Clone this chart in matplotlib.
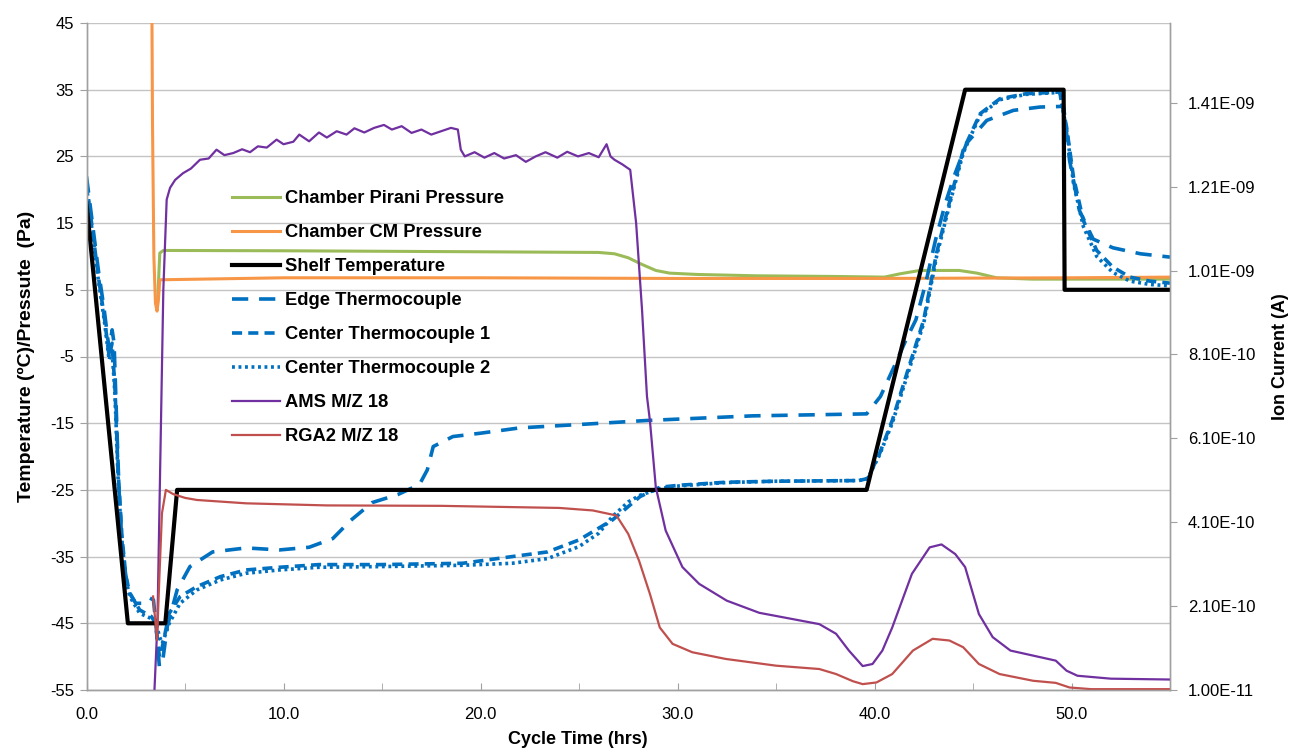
import matplotlib
matplotlib.use("Agg")
import matplotlib.pyplot as plt
from matplotlib.ticker import FixedLocator, MultipleLocator, FuncFormatter

# ---------------- data ----------------
# Left axis: temperature (degC) / pressure (Pa) vs cycle time (hrs)
pirani_t = [3.6, 3.72, 3.9, 10, 20, 26.0, 26.8, 27.5, 28.2, 28.9, 29.6, 31, 34, 38,
            40.5, 41.3, 42.3, 44.3, 45.2, 46.2, 48, 55]
pirani_v = [2.5, 10.5, 10.9, 10.85, 10.7, 10.6, 10.4, 9.8, 8.8, 7.9, 7.5, 7.3, 7.1, 7.0,
            6.9, 7.4, 7.9, 7.9, 7.5, 6.8, 6.6, 6.6]

cm_t = [3.28, 3.35, 3.42, 3.5, 3.58, 3.65, 3.72, 10, 20, 30, 40, 50, 55]
cm_v = [70, 30, 10, 3, 1.8, 3.5, 6.5, 6.8, 6.8, 6.7, 6.7, 6.8, 6.9]

shelf_t = [0, 2.1, 4.0, 4.6, 39.6, 44.6, 49.6, 49.65, 55]
shelf_v = [18, -45, -45, -25, -25, 35, 35, 5, 5]

edge_t = [0, 0.3, 0.6, 0.9, 1.15, 1.3, 1.4, 1.5, 1.65, 1.8, 2.0, 2.2, 2.5, 2.9, 3.2, 3.4,
          3.55, 3.7, 3.85, 4.1, 4.6, 5.25, 6.4, 8.1, 9.8, 11.3, 12.5, 13.4, 14.5, 15.8,
          16.9, 17.3, 17.6, 18.6, 20, 22, 25, 28.4, 33.8, 39.6, 40.3, 41.0, 41.6, 42.1,
          42.6, 43.1, 43.6, 44.1, 44.68, 45.7, 47.05, 48.4, 49.6, 49.9, 50.4, 51.1,
          52.1, 53.5, 55]
edge_v = [22, 15, 8, 2, -4, -1, -3, -12, -25, -33, -38, -40.5, -42, -42, -41.2, -41.5,
          -46, -51.5, -51, -45.5, -40, -36.5, -34.3, -33.7, -34, -33.6, -32.3, -29.6,
          -26.9, -25.7, -24.2, -22, -18.5, -17, -16.5, -15.7, -15.2, -14.6, -13.9, -13.6,
          -11, -6.5, -2.5, 0.5, 6, 12.5, 18, 22.5, 27.0, 30.4, 31.9, 32.4, 32.5, 24.4,
          16.9, 12.6, 11.3, 10.4, 9.9]

c1_t = [0, 0.3, 0.6, 0.9, 1.15, 1.3, 1.45, 1.6, 1.8, 2.0, 2.2, 2.7, 3.3, 3.5, 3.7, 3.85,
        4.2, 4.75, 5.6, 6.8, 8.1, 9.8, 11.8, 14.9, 19.1, 21.6, 23.4, 25, 26.7, 28.1,
        29.1, 30.1, 32.45, 35, 39.2, 39.65, 40.25, 40.9, 41.7, 42.5, 43.15, 43.83, 44.5,
        45.36, 46.37, 47.7, 49.4, 49.75, 50.1, 50.6, 51.28, 52.1, 52.97, 53.98, 55]
c1_v = [21, 14, 7, 1, -5, -3, -10, -22, -32, -38, -40.5, -43, -44, -45, -50, -48.5,
        -43.5, -41, -39.5, -38, -37, -36.6, -36.2, -36.2, -36, -35, -34.3, -32.5, -29.5,
        -26, -24.6, -24.3, -23.85, -23.7, -23.6, -23.3, -19.6, -14.6, -7, 0.5, 10.5,
        18.4, 25.9, 31.4, 33.65, 34.4, 34.65, 29.4, 21.9, 15.4, 10.9, 8.4, 6.9, 6.3, 6.0]

c2_t = [0, 0.3, 0.6, 0.9, 1.15, 1.3, 1.45, 1.6, 1.8, 2.0, 2.2, 2.7, 3.3, 3.5, 3.7, 3.85,
        4.2, 4.75, 5.6, 6.8, 8.1, 9.8, 11.8, 14.9, 19.1, 21.6, 23.4, 25, 26.0, 26.7,
        27.5, 28.1, 29.1, 30.1, 32.45, 35, 39.2, 39.65, 40.25, 40.9, 41.7, 42.5, 43.15,
        43.83, 44.5, 45.36, 46.37, 47.7, 49.4, 49.75, 50.1, 50.6, 51.28, 52.1, 52.97,
        53.98, 55]
c2_v = [20.5, 13.5, 6.5, 0.5, -5.5, -4, -11, -23, -33, -38.5, -41, -43.5, -44.3, -44.5,
        -47, -48, -45, -42, -40, -38.5, -37.5, -37, -36.6, -36.5, -36.3, -36, -35.3,
        -33.5, -31.5, -29, -26.8, -25.8, -24.8, -24.4, -23.9, -23.7, -23.6, -23.3, -19.8,
        -15, -7.5, 0, 10, 18, 25.5, 31.2, 33.5, 34.3, 34.6, 29, 21, 14.5, 10, 7.6, 6.3,
        5.8, 5.6]

# Right axis: ion current (A)
ams_t = [3.45, 3.6, 3.75, 3.9, 4.07, 4.24, 4.5, 4.9, 5.3, 5.76, 6.2, 6.6, 7.0, 7.45,
         7.9, 8.3, 8.7, 9.15, 9.65, 10.0, 10.5, 10.8, 11.3, 11.8, 12.2, 12.7, 13.2, 13.6,
         14.1, 14.6, 15.1, 15.5, 16.0, 16.5, 17.0, 17.5, 18.0, 18.5, 18.85, 19.0, 19.2,
         19.7, 20.2, 20.7, 21.2, 21.8, 22.3, 22.8, 23.3, 23.9, 24.4, 24.95, 25.5, 26.0,
         26.4, 26.6, 26.8, 27.2, 27.6, 27.9, 28.2, 28.45, 28.6, 28.9, 29.4, 30.25, 31.1,
         32.5, 34.15, 35.85, 37.2, 38.05, 38.7, 39.4, 39.9, 40.4, 40.9, 41.9, 42.8, 43.4,
         44.1, 44.6, 45.3, 46.0, 46.9, 48.05, 49.2, 49.75, 50.3, 52, 55]
ams_a = [0.10e-10, 1.69e-10, 5.67e-10, 9.64e-10, 11.79e-10, 12.07e-10, 12.26e-10,
         12.42e-10, 12.53e-10, 12.74e-10, 12.77e-10, 12.98e-10, 12.85e-10, 12.90e-10,
         12.99e-10, 12.92e-10, 13.06e-10, 13.03e-10, 13.22e-10, 13.11e-10, 13.17e-10,
         13.34e-10, 13.18e-10, 13.39e-10, 13.27e-10, 13.42e-10, 13.34e-10, 13.49e-10,
         13.39e-10, 13.50e-10, 13.57e-10, 13.46e-10, 13.54e-10, 13.38e-10, 13.46e-10,
         13.34e-10, 13.42e-10, 13.50e-10, 13.46e-10, 12.98e-10, 12.82e-10, 12.92e-10,
         12.79e-10, 12.90e-10, 12.77e-10, 12.85e-10, 12.69e-10, 12.82e-10, 12.92e-10,
         12.79e-10, 12.93e-10, 12.82e-10, 12.90e-10, 12.80e-10, 13.11e-10, 12.82e-10,
         12.74e-10, 12.63e-10, 12.50e-10, 11.23e-10, 9.16e-10, 7.10e-10, 6.52e-10,
         4.93e-10, 3.90e-10, 3.03e-10, 2.63e-10, 2.23e-10, 1.94e-10, 1.79e-10, 1.67e-10,
         1.44e-10, 1.04e-10, 0.67e-10, 0.72e-10, 1.04e-10, 1.59e-10, 2.87e-10, 3.50e-10,
         3.57e-10, 3.34e-10, 3.03e-10, 1.91e-10, 1.36e-10, 1.04e-10, 0.92e-10, 0.80e-10,
         0.56e-10, 0.44e-10, 0.37e-10, 0.35e-10]

rga_t = [3.38, 3.58, 3.7, 3.83, 4.03, 4.4, 5.0, 5.6, 8.1, 12.2, 18, 24, 25.7, 26.9,
         27.5, 28.05, 28.6, 29.1, 29.75, 30.75, 32.45, 35.0, 37.2, 38.05, 38.9, 39.4,
         40.1, 40.9, 41.95, 42.95, 43.8, 44.5, 45.3, 46.35, 48.05, 49.2, 49.9, 51, 55]
rga_a = [2.33e-10, 1.29e-10, 2.80e-10, 4.31e-10, 4.87e-10, 4.77e-10, 4.68e-10, 4.63e-10,
         4.55e-10, 4.50e-10, 4.49e-10, 4.44e-10, 4.38e-10, 4.26e-10, 3.82e-10, 3.18e-10,
         2.39e-10, 1.59e-10, 1.20e-10, 1.00e-10, 0.84e-10, 0.68e-10, 0.60e-10, 0.48e-10,
         0.31e-10, 0.24e-10, 0.28e-10, 0.48e-10, 1.04e-10, 1.32e-10, 1.28e-10, 1.12e-10,
         0.72e-10, 0.48e-10, 0.32e-10, 0.27e-10, 0.16e-10, 0.12e-10, 0.12e-10]

left_ticks = [-55, -45, -35, -25, -15, -5, 5, 15, 25, 35, 45]
right_ticks = [1.0e-11, 2.1e-10, 4.1e-10, 6.1e-10, 8.1e-10, 1.01e-9, 1.21e-9, 1.41e-9]
x_ticks = [0, 10, 20, 30, 40, 50]

labels = ["Chamber Pirani Pressure", "Chamber CM Pressure", "Shelf Temperature",
          "Edge Thermocouple", "Center Thermocouple 1", "Center Thermocouple 2",
          "AMS M/Z 18", "RGA2 M/Z 18"]

# ---------------- figure ----------------
plt.rcParams['font.family'] = ['Liberation Sans', 'DejaVu Sans']
plt.rcParams['axes.unicode_minus'] = False
fig = plt.figure(figsize=(12.94, 7.48), dpi=100)
ax = fig.add_axes([86.5 / 1294, 1 - 690 / 748, (1170 - 86.5) / 1294, (690 - 23) / 748])
ax2 = ax.twinx()

blue = "#0070C0"
h1, = ax.plot(pirani_t, pirani_v, color="#9BBB59", lw=2.2, label=labels[0])
h2, = ax.plot(cm_t, cm_v, color="#F79646", lw=2.2, label=labels[1])
h4, = ax.plot(edge_t, edge_v, color=blue, lw=2.6, dashes=(4.5, 3.0), label=labels[3])
h5, = ax.plot(c1_t, c1_v, color=blue, lw=2.6, dashes=(2.8, 1.7), label=labels[4])
h6, = ax.plot(c2_t, c2_v, color=blue, lw=2.6, dashes=(0.8, 1.0), label=labels[5])
h3, = ax.plot(shelf_t, shelf_v, color="black", lw=3.0, label=labels[2], zorder=3)
h7, = ax2.plot(ams_t, ams_a, color="#7030A0", lw=1.6, label=labels[6])
h8, = ax2.plot(rga_t, rga_a, color="#C0504D", lw=1.6, label=labels[7])

ax.set_xlim(0, 55)
ax.set_ylim(-55, 45)
ax2.set_ylim(1.0e-11, 1.6e-9)

grid_c = "#C4C4C4"
spine_c = "#A0A0A0"
ax.yaxis.set_major_locator(FixedLocator(left_ticks))
ax.yaxis.grid(True, color=grid_c, lw=1.0)
ax.set_axisbelow(True)
ax.xaxis.set_major_locator(FixedLocator(x_ticks))
ax.xaxis.set_minor_locator(MultipleLocator(5))
ax.xaxis.set_major_formatter(FuncFormatter(lambda v, p: f"{v:.1f}"))
ax.tick_params(axis='x', which='both', direction='in', length=5, color=spine_c,
               labelsize=12, pad=12)
ax.tick_params(axis='y', direction='out', length=5, color=spine_c, labelsize=12, pad=4)

ax2.yaxis.set_major_locator(FixedLocator(right_ticks))
ax2.yaxis.set_major_formatter(FuncFormatter(lambda v, p: f"{v:.2E}"))
ax2.tick_params(axis='y', direction='out', length=5, color=spine_c, labelsize=12, pad=8)

for a in (ax, ax2):
    a.spines['top'].set_visible(False)
    for s in ('left', 'bottom', 'right'):
        a.spines[s].set_color(spine_c)
        a.spines[s].set_linewidth(1.0)

ax.set_ylabel("Temperature (ºC)/Pressute  (Pa)", labelpad=11, fontsize=14,
              fontweight='bold')
ax2.set_ylabel("Ion Current (A)", labelpad=12, fontsize=13, fontweight='bold')
fig.text(578 / 1294, 1 - 739 / 748, "Cycle Time (hrs)", ha='center', va='center',
         fontsize=13, fontweight='bold')

leg = ax.legend(handles=[h1, h2, h3, h4, h5, h6, h7, h8], loc='upper left',
                bbox_to_anchor=((232 - 86.5) / (1170 - 86.5), (690 - 190) / 667),
                frameon=False, handlelength=2.6, handletextpad=0.3,
                labelspacing=0.93, borderpad=0, borderaxespad=0,
                prop=dict(weight='bold', size=13.2))
leg.set_zorder(5)

fig.savefig("out.png", dpi=100)
